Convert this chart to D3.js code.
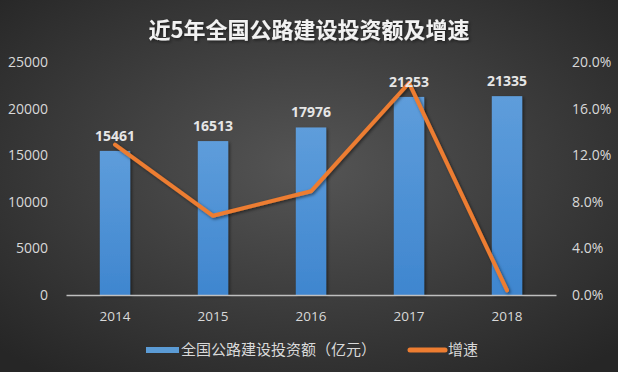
<!DOCTYPE html>
<html><head><meta charset="utf-8">
<script src="https://cdn.jsdelivr.net/npm/d3@7"></script>
<style>html,body{margin:0;padding:0;background:#3a3a3a;}svg{display:block;}</style>
</head><body>
<script>
const categories = ["2014","2015","2016","2017","2018"];
const investment = [15461,16513,17976,21253,21335];
const growth = [12.9,6.8,8.9,18.2,0.4];
const leftTicks = [0,5000,10000,15000,20000,25000];
const rightTicks = [0,4,8,12,16,20];
const title = "近5年全国公路建设投资额及增速";
const seriesNames = ["全国公路建设投资额（亿元）","增速"];

const W=618,H=372;
const svg=d3.select("body").append("svg").attr("width",W).attr("height",H);
const defs=svg.append("defs");
const bg=defs.append("radialGradient").attr("id","bg").attr("cx","50%").attr("cy","45%").attr("r","70%");
bg.append("stop").attr("offset","0%").attr("stop-color","#555555");
bg.append("stop").attr("offset","100%").attr("stop-color","#262626");
const bg2=defs.append("linearGradient").attr("id","bar").attr("x1",0).attr("y1",0).attr("x2",0).attr("y2",1);
bg2.append("stop").attr("offset","0%").attr("stop-color","#5e9ddb");
bg2.append("stop").attr("offset","100%").attr("stop-color","#3f86cf");
const sh=defs.append("filter").attr("id","sh").attr("x","-20%").attr("y","-20%").attr("width","140%").attr("height","140%");
sh.append("feDropShadow").attr("dx",1.5).attr("dy",1.5).attr("stdDeviation",1.5).attr("flood-color","#000").attr("flood-opacity",0.5);

svg.append("rect").attr("width",W).attr("height",H).attr("fill","url(#bg)");

const font="'Open Sans','Liberation Sans',sans-serif";
const x=d3.scaleBand().domain(categories).range([66,556]).paddingInner(0.69).paddingOuter(0.345);
const y=d3.scaleLinear().domain([0,25000]).range([295,62]);
const y2=d3.scaleLinear().domain([0,20]).range([295,62]);

svg.append("text").attr("x",309).attr("y",38).attr("text-anchor","middle")
 .attr("font-family","'Noto Sans CJK SC',sans-serif").attr("font-weight","bold").attr("font-size",22)
 .attr("fill","#f2f2f2").attr("filter","url(#sh)").text(title);

// left axis
const la=svg.append("g").attr("transform","translate(48,0)")
 .call(d3.axisLeft(y).tickValues(leftTicks).tickSize(0).tickPadding(0).tickFormat(d3.format("d")));
la.select(".domain").remove();
la.selectAll("text").attr("font-family",font).attr("font-size",14).attr("fill","#d9d9d9");
// right axis
const ra=svg.append("g").attr("transform","translate(572,0)")
 .call(d3.axisRight(y2).tickValues(rightTicks).tickSize(0).tickPadding(0).tickFormat(d=>d3.format(".1f")(d)+"%"));
ra.select(".domain").remove();
ra.selectAll("text").attr("font-family",font).attr("font-size",14).attr("fill","#d9d9d9");

// bars
svg.append("g").selectAll("rect").data(investment).join("rect")
 .attr("x",(d,i)=>x(categories[i])).attr("width",x.bandwidth())
 .attr("y",d=>y(d)).attr("height",d=>y(0)-y(d))
 .attr("fill","url(#bar)").attr("filter","url(#sh)");

// x axis
const xa=svg.append("g").attr("transform","translate(0,295)")
 .call(d3.axisBottom(x).tickSize(0).tickPadding(16));
xa.select(".domain").attr("stroke","#bfbfbf").attr("stroke-width",1.5);
xa.selectAll("text").attr("font-family",font).attr("font-size",13.5).attr("fill","#d9d9d9");

// line
const line=d3.line().x((d,i)=>x(categories[i])+x.bandwidth()/2).y(d=>y2(d));
svg.append("path").datum(growth).attr("d",line).attr("fill","none")
 .attr("stroke","#ed7d31").attr("stroke-width",4).attr("stroke-linejoin","round").attr("stroke-linecap","round").attr("filter","url(#sh)");

// data labels
svg.append("g").selectAll("text").data(investment).join("text")
 .attr("x",(d,i)=>x(categories[i])+x.bandwidth()/2).attr("y",d=>y(d)-10)
 .attr("text-anchor","middle").attr("font-family",font).attr("font-weight","bold").attr("font-size",14)
 .attr("fill","#e6e6e6").text(d=>d);

// legend
const lg=svg.append("g");
lg.append("rect").attr("x",146).attr("y",347).attr("width",33).attr("height",6).attr("fill","#5b9bd5");
lg.append("text").attr("x",181).attr("y",355).attr("font-family","'Noto Sans CJK SC',sans-serif").attr("font-size",15).attr("fill","#d9d9d9").text(seriesNames[0]);
lg.append("line").attr("x1",410).attr("x2",445).attr("y1",350).attr("y2",350).attr("stroke","#ed7d31").attr("stroke-width",5).attr("stroke-linecap","round");
lg.append("text").attr("x",448).attr("y",355).attr("font-family","'Noto Sans CJK SC',sans-serif").attr("font-size",15).attr("fill","#d9d9d9").text(seriesNames[1]);
</script>
</body></html>
